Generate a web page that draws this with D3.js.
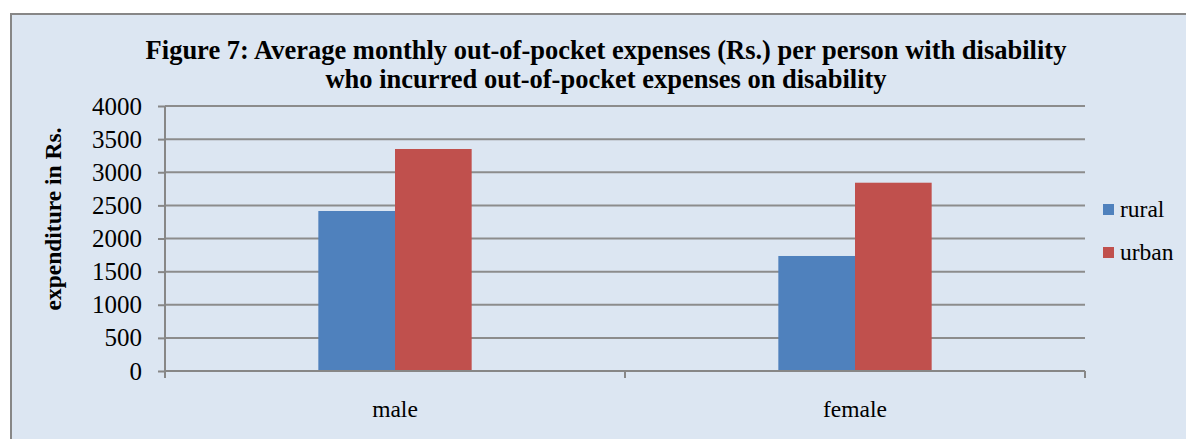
<!DOCTYPE html>
<html>
<head>
<meta charset="utf-8">
<script src="https://cdn.jsdelivr.net/npm/d3@7"></script>
<style>
  html, body { margin: 0; padding: 0; background: #ffffff; }
  svg { display: block; }
  text { font-family: "Liberation Serif", "Times New Roman", serif; fill: #000; }
</style>
</head>
<body>
<svg id="chart" width="1186" height="439"></svg>
<script>
const categories = ["male", "female"];
const seriesNames = ["rural", "urban"];
const rural = [2415, 1736];
const urban = [3351, 2842];
const yTicks = [0, 500, 1000, 1500, 2000, 2500, 3000, 3500, 4000];
const titleLines = [
  "Figure 7: Average monthly out-of-pocket expenses (Rs.) per person with disability",
  "who incurred out-of-pocket expenses on disability"
];
const yTitle = "expenditure in Rs.";
const colors = ["#4f81bd", "#c0504d"];

const seriesValues = [rural, urban];
const svg = d3.select("#chart");
const W = 1186, H = 439;

// frame
svg.append("rect").attr("x", 11).attr("y", 14).attr("width", W + 20).attr("height", H + 20)
  .attr("fill", "#dce6f2").attr("stroke", "#878787").attr("stroke-width", 2);

const pL = 165, pR = 1085, pT = 106, pB = 371;

const x0 = d3.scaleBand().domain(categories).range([pL, pR]).padding(0);
const x1 = d3.scaleBand().domain(seriesNames).range([0, x0.bandwidth()]).paddingInner(0).paddingOuter(2.0);
const y = d3.scaleLinear().domain([0, 4000]).range([pB, pT]);

// gridlines
svg.append("g").selectAll("line").data(yTicks.filter(d => d > 0)).join("line")
  .attr("x1", pL).attr("x2", pR)
  .attr("y1", d => y(d)).attr("y2", d => y(d))
  .attr("stroke", "#8c8c8c").attr("stroke-width", 2);

// y axis
const yAxis = d3.axisLeft(y).tickValues(yTicks).tickSize(7).tickPadding(16).tickFormat(d3.format("d"));
const gy = svg.append("g").attr("transform", `translate(${pL},0)`).call(yAxis);
gy.select(".domain").attr("stroke", "#878787").attr("stroke-width", 2)
  .attr("d", `M0,${pT}V${pB + 7}`);
gy.selectAll(".tick line").attr("stroke", "#878787").attr("stroke-width", 2);
gy.selectAll(".tick text").attr("font-size", 25).attr("font-family", "Liberation Serif").attr("fill", "#000");

// bars
const groups = svg.append("g").selectAll("g").data(categories).join("g")
  .attr("transform", d => `translate(${x0(d)},0)`);
groups.selectAll("rect").data((d, i) => seriesNames.map((s, j) => ({s, v: seriesValues[j][i], j})))
  .join("rect")
  .attr("x", d => x1(d.s)).attr("width", x1.bandwidth())
  .attr("y", d => y(d.v)).attr("height", d => y(0) - y(d.v))
  .attr("fill", d => colors[d.j]);

// x axis
const xAxisLine = svg.append("g");
xAxisLine.append("line").attr("x1", pL).attr("x2", pR).attr("y1", pB).attr("y2", pB)
  .attr("stroke", "#878787").attr("stroke-width", 2);
const catBounds = [pL].concat(categories.map(c => x0(c) + x0.bandwidth()));
xAxisLine.selectAll("line.t").data(catBounds).join("line").attr("class", "t")
  .attr("x1", d => d).attr("x2", d => d).attr("y1", pB).attr("y2", pB + 7)
  .attr("stroke", "#878787").attr("stroke-width", 2);
svg.append("g").selectAll("text").data(categories).join("text")
  .attr("x", d => x0(d) + x0.bandwidth() / 2).attr("y", 417)
  .attr("text-anchor", "middle").attr("font-size", 23.5).text(d => d);

// title
svg.append("g").selectAll("text").data(titleLines).join("text")
  .attr("x", 606).attr("y", (d, i) => 59 + i * 29)
  .attr("text-anchor", "middle").attr("font-size", 26.5).attr("font-weight", "bold")
  .text(d => d);

// y title
svg.append("text").attr("transform", `translate(61,219) rotate(-90)`)
  .attr("text-anchor", "middle").attr("font-size", 23.5).attr("font-weight", "bold").text(yTitle);

// legend
const leg = svg.append("g").selectAll("g").data(seriesNames).join("g")
  .attr("transform", (d, i) => `translate(1103,${204 + i * 43})`);
leg.append("rect").attr("width", 11).attr("height", 11).attr("fill", (d, i) => colors[i]);
leg.append("text").attr("x", 17).attr("y", 13).attr("font-size", 23.5).text(d => d);
</script>
</body>
</html>
